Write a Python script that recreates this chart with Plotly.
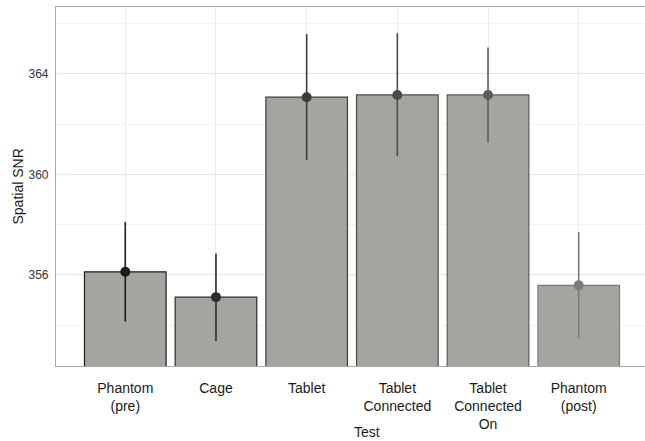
import plotly.graph_objects as go

categories = ["Phantom<br>(pre)", "Cage", "Tablet", "Tablet<br>Connected", "Tablet<br>Connected<br>On", "Phantom<br>(post)"]
means = [356.12, 355.11, 363.07, 363.16, 363.16, 355.58]
err_hi = [358.10, 356.85, 365.58, 365.62, 365.05, 357.70]
err_lo = [354.14, 353.37, 360.57, 360.73, 361.28, 353.46]
shades = ["#1c1c1c", "#2c2c2c", "#3c3c3c", "#4b4b4b", "#5c5c5c", "#7a7a7a"]
y_ticks = [356, 360, 364]

fig = go.Figure()
fig.add_trace(go.Bar(
    x=categories, y=means, width=0.9,
    marker=dict(color="#a5a5a0", line=dict(color=shades, width=1.2)),
    showlegend=False, hoverinfo="skip",
))
for c, m, hi, lo, col in zip(categories, means, err_hi, err_lo, shades):
    fig.add_trace(go.Scatter(
        x=[c], y=[m], mode="markers",
        marker=dict(color=col, size=10),
        error_y=dict(type="data", symmetric=False, array=[hi - m], arrayminus=[m - lo],
                     color=col, thickness=1.6, width=0),
        showlegend=False,
    ))

fig.update_layout(
    width=645, height=441,
    margin=dict(l=56, r=0, t=7, b=75),
    paper_bgcolor="white", plot_bgcolor="white",
    font=dict(family="Liberation Sans, Arial, sans-serif", color="#1a1a1a"),
    bargap=0.1,
    annotations=[
        dict(text="Test", xref="paper", yref="paper", x=0.528,
             y=0, yshift=-66, showarrow=False, xanchor="center", yanchor="middle",
             font=dict(size=14, color="#1a1a1a")),
        dict(text="Spatial SNR", xref="paper", yref="paper", x=0, xshift=-39, y=0.5,
             textangle=-90, showarrow=False, xanchor="center", yanchor="middle",
             font=dict(size=14, color="#1a1a1a")),
    ],
)
fig.update_xaxes(
    range=[-0.764, 5.731], automargin=False,
    showline=True, mirror=True, linecolor="#a8a8a8", linewidth=1.2,
    showgrid=True, gridcolor="#ececec", gridwidth=1,
    ticks="", tickfont=dict(size=14, color="#1a1a1a"), ticklabelstandoff=9,
)
fig.update_yaxes(
    range=[352.37, 366.66], automargin=False,
    tickvals=y_ticks, ticktext=[str(v) for v in y_ticks],
    showline=True, mirror=False, linecolor="#a8a8a8", linewidth=1.2,
    showgrid=True, gridcolor="#e6e6e6", gridwidth=1,
    minor=dict(tickvals=[354, 358, 362, 366], showgrid=True, gridcolor="#f2f2f2", gridwidth=1),
    zeroline=False,
    ticks="", tickfont=dict(size=12, color="#333333"), ticklabelstandoff=4,
)
fig.write_html("out.html", config={"displayModeBar": False},
               post_script="document.body.style.margin='0';document.body.style.padding='0';")
